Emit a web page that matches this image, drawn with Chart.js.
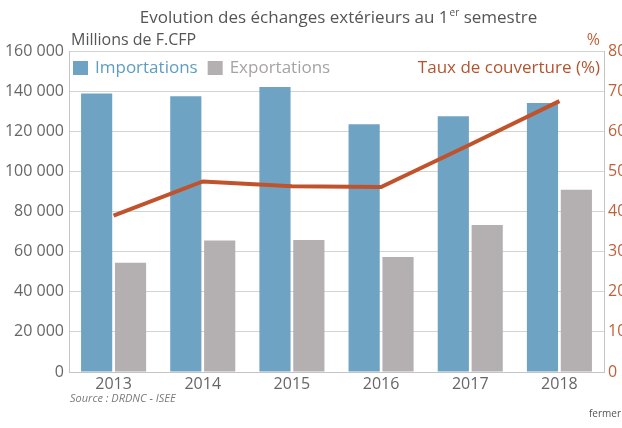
<!DOCTYPE html>
<html>
<head>
<meta charset="utf-8">
<script src="https://cdn.jsdelivr.net/npm/chart.js@4.4.1/dist/chart.umd.min.js"></script>
<style>
  body { margin: 0; background: #fff; }
  #wrap { position: relative; width: 622px; height: 428px; }
</style>
</head>
<body>
<div id="wrap"><canvas id="myChart" width="622" height="428"></canvas></div>
<script>
// data
const years = ['2013', '2014', '2015', '2016', '2017', '2018'];
const importations = [138800, 137400, 142000, 123500, 127500, 134100];
const exportations = [54500, 65500, 65800, 57300, 73300, 90900];
const tauxCouverture = [39.0, 47.5, 46.3, 46.1, 56.7, 67.5];
const leftTicks = [0, 20000, 40000, 60000, 80000, 100000, 120000, 140000, 160000];
const rightTicks = [0, 10, 20, 30, 40, 50, 60, 70, 80];

const BLUE = '#6fa3c4';
const GREY = '#b4afb1';
const RUST = '#c0532b';
const FONT = "'Open Sans', sans-serif";

function fmt(v) {
    return String(v).replace(/\B(?=(\d{3})+(?!\d))/g, ' ');
}

const textPlugin = {
    id: 'texts',
    afterDraw(chart) {
        const ctx = chart.ctx;
        ctx.save();
        ctx.textBaseline = 'middle';

        // title with superscript "er"
        const t1 = 'Evolution des échanges extérieurs au 1';
        const t2 = 'er';
        const t3 = ' semestre';
        ctx.font = '17px ' + FONT;
        const w1 = ctx.measureText(t1).width;
        const w3 = ctx.measureText(t3).width;
        ctx.font = '10px ' + FONT;
        const w2 = ctx.measureText(t2).width;
        let x = 338 - (w1 + w2 + w3) / 2;
        ctx.fillStyle = '#555';
        ctx.textAlign = 'left';
        ctx.font = '17px ' + FONT;
        ctx.fillText(t1, x, 18);
        ctx.font = '10px ' + FONT;
        ctx.fillText(t2, x + w1 + 1, 13);
        ctx.font = '17px ' + FONT;
        ctx.fillText(t3, x + w1 + w2 + 1, 18);

        ctx.font = '16px ' + FONT;
        ctx.fillText('Millions de F.CFP', 71, 40);

        ctx.fillStyle = '#c0603a';
        ctx.textAlign = 'right';
        ctx.fillText('%', 600, 40);

        // legend inside the plot box
        ctx.font = '17px ' + FONT;
        ctx.textAlign = 'left';
        const items = [
            { label: chart.data.datasets[1].label, color: BLUE, text: '#5f9cc4' },
            { label: chart.data.datasets[2].label, color: GREY, text: '#a7a3a4' }
        ];
        let lx = 73;
        items.forEach(it => {
            ctx.fillStyle = it.color;
            ctx.fillRect(lx, 61, 15, 14);
            ctx.fillStyle = it.text;
            ctx.fillText(it.label, lx + 22, 68);
            lx += 22 + ctx.measureText(it.label).width + 10;
        });
        ctx.fillStyle = '#b5532f';
        ctx.textAlign = 'right';
        ctx.fillText(chart.data.datasets[0].label, 600, 68);

        // source + footer
        ctx.textAlign = 'left';
        ctx.fillStyle = '#7a7a7a';
        ctx.font = 'italic 11px ' + FONT;
        ctx.fillText('Source : DRDNC - ISEE', 70, 399);
        ctx.fillStyle = '#555';
        ctx.font = '10px ' + FONT;
        ctx.fillText('fermer', 589, 414);
        ctx.restore();
    }
};

const ctx = document.getElementById('myChart');
const myChart = new Chart(ctx, {
    type: 'bar',
    data: {
        labels: years,
        datasets: [
            {
                type: 'line',
                label: 'Taux de couverture (%)',
                data: tauxCouverture,
                yAxisID: 'y1',
                borderColor: RUST,
                borderWidth: 4,
                pointRadius: 0,
                tension: 0,
                order: 0
            },
            {
                label: 'Importations',
                data: importations,
                backgroundColor: BLUE,
                yAxisID: 'y',
                categoryPercentage: 0.76,
                barPercentage: 0.92,
                order: 1
            },
            {
                label: 'Exportations',
                data: exportations,
                backgroundColor: GREY,
                yAxisID: 'y',
                categoryPercentage: 0.76,
                barPercentage: 0.92,
                order: 1
            }
        ]
    },
    options: {
        responsive: false,
        animation: false,
        layout: { padding: { top: 51, left: 0, right: 0, bottom: 0 } },
        plugins: {
            legend: { display: false },
            tooltip: { enabled: false }
        },
        scales: {
            x: {
                grid: { display: true, drawOnChartArea: false, drawTicks: false },
                border: { display: true, color: '#c4c4c4' },
                ticks: { color: '#666', font: { family: FONT, size: 16 }, padding: 3 },
                afterFit(s) { s.height = 56; }
            },
            y: {
                position: 'left',
                min: 0,
                max: 160000,
                afterBuildTicks(s) { s.ticks = leftTicks.map(v => ({ value: v })); },
                grid: { color: '#d3d3d3', drawTicks: false },
                border: { display: true, color: '#c4c4c4' },
                ticks: {
                    color: '#666',
                    font: { family: FONT, size: 16 },
                    padding: 5,
                    callback: v => fmt(v)
                },
                afterFit(s) { s.width = 69; }
            },
            y1: {
                position: 'right',
                min: 0,
                max: 80,
                afterBuildTicks(s) { s.ticks = rightTicks.map(v => ({ value: v })); },
                grid: { drawOnChartArea: false, drawTicks: false },
                border: { display: true, color: '#c4c4c4' },
                ticks: { color: '#c0603a', font: { family: FONT, size: 16 }, padding: 4 },
                afterFit(s) { s.width = 18; }
            }
        }
    },
    plugins: [textPlugin]
});
</script>
</body>
</html>
